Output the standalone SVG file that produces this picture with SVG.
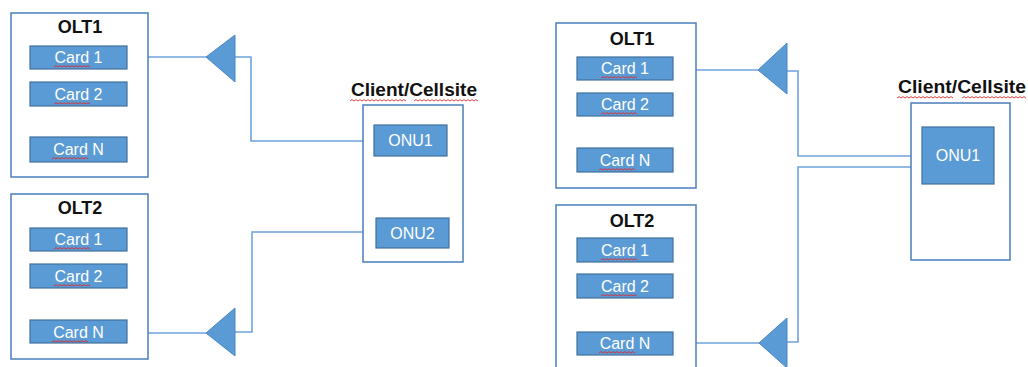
<svg xmlns="http://www.w3.org/2000/svg" xmlns:xlink="http://www.w3.org/1999/xlink" width="1028" height="367" viewBox="0 0 1028 367">
  <style>
    .box { fill: #ffffff; stroke: #4a7ebb; stroke-width: 1.5; }
    .card { fill: #5b9bd5; stroke: #41719c; stroke-width: 1.2; }
    .cardtxt { font-family: "Liberation Sans", Arial, sans-serif; font-size: 16px; fill: #ffffff; text-anchor: middle; }
    .title { font-family: "Liberation Sans", Arial, sans-serif; font-size: 18px; font-weight: bold; fill: #111111; text-anchor: middle; }
    .amp { fill: #5b9bd5; stroke: #4a86c5; stroke-width: 1; }
    .wire { fill: none; stroke: #6fa3dc; stroke-width: 1.6; }
    .wave { fill: none; stroke: #e02a2a; stroke-width: 0.9; }
  </style>
  <defs>
    <!-- red spell-check waves of three lengths -->
    <path id="wave36" class="wave" d="M0,0 l2,-1.4 l2,1.4 l2,-1.4 l2,1.4 l2,-1.4 l2,1.4 l2,-1.4 l2,1.4 l2,-1.4 l2,1.4 l2,-1.4 l2,1.4 l2,-1.4 l2,1.4 l2,-1.4 l2,1.4 l2,-1.4 l2,1.4"/>
    <path id="wave56" class="wave" d="M0,0 l2,-1.4 l2,1.4 l2,-1.4 l2,1.4 l2,-1.4 l2,1.4 l2,-1.4 l2,1.4 l2,-1.4 l2,1.4 l2,-1.4 l2,1.4 l2,-1.4 l2,1.4 l2,-1.4 l2,1.4 l2,-1.4 l2,1.4 l2,-1.4 l2,1.4 l2,-1.4 l2,1.4 l2,-1.4 l2,1.4 l2,-1.4 l2,1.4 l2,-1.4 l2,1.4"/>
    <path id="wave64" class="wave" d="M0,0 l2,-1.4 l2,1.4 l2,-1.4 l2,1.4 l2,-1.4 l2,1.4 l2,-1.4 l2,1.4 l2,-1.4 l2,1.4 l2,-1.4 l2,1.4 l2,-1.4 l2,1.4 l2,-1.4 l2,1.4 l2,-1.4 l2,1.4 l2,-1.4 l2,1.4 l2,-1.4 l2,1.4 l2,-1.4 l2,1.4 l2,-1.4 l2,1.4 l2,-1.4 l2,1.4 l2,-1.4 l2,1.4 l2,-1.4 l2,1.4"/>
  </defs>

  <!-- connectors -->
  <g id="connectors">
    <path class="wire" d="M127,57 H210"/>
    <path class="wire" d="M235,57 H251 V141 H375"/>
    <path class="wire" d="M127,333 H210"/>
    <path class="wire" d="M235,332 H252 V232 H376"/>
    <path class="wire" d="M673,70 H762"/>
    <path class="wire" d="M787,71 H798 V156 H922"/>
    <path class="wire" d="M673,343 H763"/>
    <path class="wire" d="M787,342 H798 V167 H922"/>
  </g>

  <!-- left scenario: two ONUs -->
  <g id="olt1-a">
    <rect class="box" x="11" y="13" width="137" height="164"/>
    <text class="title" x="80" y="33">OLT1</text>
    <rect class="card" x="30" y="46" width="97" height="23"/>
    <text class="cardtxt" x="78.5" y="63">Card 1</text>
    <use xlink:href="#wave36" x="54" y="67"/>
    <rect class="card" x="30" y="82" width="97" height="24"/>
    <text class="cardtxt" x="78.5" y="100">Card 2</text>
    <use xlink:href="#wave36" x="54" y="104"/>
    <rect class="card" x="30" y="137" width="97" height="25"/>
    <text class="cardtxt" x="78.5" y="155">Card N</text>
    <use xlink:href="#wave36" x="52" y="159"/>
  </g>

  <g id="olt2-a">
    <rect class="box" x="11" y="194" width="137" height="165"/>
    <text class="title" x="80" y="214">OLT2</text>
    <rect class="card" x="30" y="228" width="97" height="23"/>
    <text class="cardtxt" x="78.5" y="245">Card 1</text>
    <use xlink:href="#wave36" x="54" y="249"/>
    <rect class="card" x="30" y="264" width="97" height="24"/>
    <text class="cardtxt" x="78.5" y="282">Card 2</text>
    <use xlink:href="#wave36" x="54" y="286"/>
    <rect class="card" x="30" y="320" width="97" height="23"/>
    <text class="cardtxt" x="78.5" y="338">Card N</text>
    <use xlink:href="#wave36" x="52" y="342"/>
  </g>

  <g id="amp-a1"><polygon class="amp" points="206,57 235,35 235,82"/></g>
  <g id="amp-a2"><polygon class="amp" points="206,333 235,308 235,356"/></g>

  <g id="client-a">
    <text class="title" x="414" y="96" textLength="126" lengthAdjust="spacingAndGlyphs">Client/Cellsite</text>
    <use xlink:href="#wave56" x="350" y="101"/>
    <use xlink:href="#wave64" x="414" y="101"/>
    <rect class="box" x="363" y="105" width="100" height="157"/>
    <rect class="card" x="374" y="125" width="73" height="31"/>
    <text class="cardtxt" x="410.5" y="146">ONU1</text>
    <rect class="card" x="376" y="218" width="73" height="30"/>
    <text class="cardtxt" x="412.5" y="239">ONU2</text>
  </g>

  <!-- right scenario: one ONU fed from both OLTs -->
  <g id="olt1-b">
    <rect class="box" x="556" y="23" width="140" height="165"/>
    <text class="title" x="632" y="45">OLT1</text>
    <rect class="card" x="577" y="57" width="96" height="23"/>
    <text class="cardtxt" x="625" y="74">Card 1</text>
    <use xlink:href="#wave36" x="601" y="78"/>
    <rect class="card" x="577" y="93" width="96" height="23"/>
    <text class="cardtxt" x="625" y="110">Card 2</text>
    <use xlink:href="#wave36" x="601" y="114"/>
    <rect class="card" x="577" y="148" width="96" height="24"/>
    <text class="cardtxt" x="625" y="166">Card N</text>
    <use xlink:href="#wave36" x="599" y="170"/>
  </g>

  <g id="olt2-b">
    <rect class="box" x="556" y="205" width="140" height="175"/>
    <text class="title" x="632" y="227">OLT2</text>
    <rect class="card" x="577" y="238" width="96" height="24"/>
    <text class="cardtxt" x="625" y="256">Card 1</text>
    <use xlink:href="#wave36" x="601" y="260"/>
    <rect class="card" x="577" y="274" width="96" height="24"/>
    <text class="cardtxt" x="625" y="292">Card 2</text>
    <use xlink:href="#wave36" x="601" y="296"/>
    <rect class="card" x="577" y="332" width="96" height="23"/>
    <text class="cardtxt" x="625" y="349">Card N</text>
    <use xlink:href="#wave36" x="599" y="353"/>
  </g>

  <g id="amp-b1"><polygon class="amp" points="758,70 787,43 787,94"/></g>
  <g id="amp-b2"><polygon class="amp" points="759,343 787,318 787,368"/></g>

  <g id="client-b">
    <text class="title" x="962" y="93" textLength="128" lengthAdjust="spacingAndGlyphs">Client/Cellsite</text>
    <use xlink:href="#wave56" x="897" y="98"/>
    <use xlink:href="#wave64" x="962" y="98"/>
    <rect class="box" x="911" y="103" width="99" height="157"/>
    <rect class="card" x="922" y="127" width="72" height="57"/>
    <text class="cardtxt" x="958" y="161">ONU1</text>
  </g>
</svg>
